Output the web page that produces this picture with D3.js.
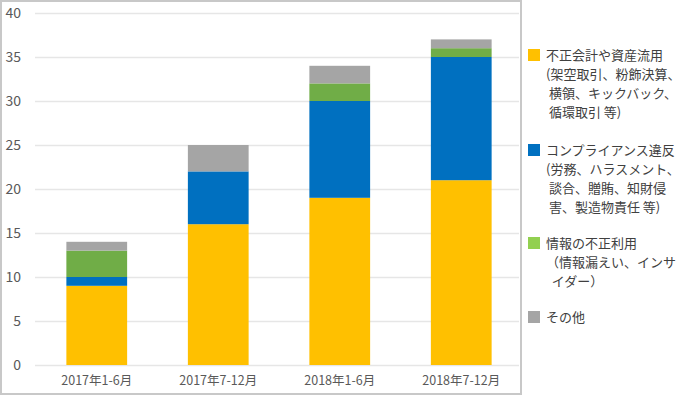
<!DOCTYPE html>
<html>
<head>
<meta charset="utf-8">
<script src="https://cdn.jsdelivr.net/npm/d3@7"></script>
<style>
  body { margin: 0; background: #fff; }
  text { font-family: "Noto Sans CJK JP", "Noto Sans", sans-serif; }
</style>
</head>
<body>
<div id="chart"></div>
<script>
// data
var periods = ["2017年1-6月", "2017年7-12月", "2018年1-6月", "2018年7-12月"]
var fraud = [9, 16, 19, 21]
var compliance = [1, 6, 11, 14]
var infoMisuse = [3, 0, 2, 1]
var other = [1, 3, 2, 1]
var yTicks = [0, 5, 10, 15, 20, 25, 30, 35, 40]

var seriesNames = ["fraud", "compliance", "info", "other"]
var colors = { fraud: "#FFC000", compliance: "#0070C0", info: "#70AD47", other: "#A5A5A5" }
var legendColors = { fraud: "#FFC000", compliance: "#0070C0", info: "#92D050", other: "#A5A5A5" }
var legendLines = {
  fraud: ["不正会計や資産流用", "(架空取引、粉飾決算、", " 横領、キックバック、", " 循環取引 等)"],
  compliance: ["コンプライアンス違反", "(労務、ハラスメント、", " 談合、贈賄、知財侵", " 害、製造物責任 等)"],
  info: ["情報の不正利用", "（情報漏えい、インサ", "  イダー）"],
  other: ["その他"]
}

var rows = periods.map(function (p, i) {
  return { period: p, fraud: fraud[i], compliance: compliance[i], info: infoMisuse[i], other: other[i] }
})

var svg = d3.select("#chart")
    .append("svg")
    .attr("width", 700)
    .attr("height", 396)

// chart frame
svg.append("rect")
    .attr("x", 1)
    .attr("y", 1)
    .attr("width", 520)
    .attr("height", 393)
    .attr("fill", "none")
    .attr("stroke", "#c8c8c8")
    .attr("stroke-width", 2)

var x = d3.scaleBand()
    .domain(periods)
    .range([36, 522])
    .paddingInner(0.5)
    .paddingOuter(0.25)

var y = d3.scaleLinear()
    .domain([0, 40])
    .range([365, 13])

// gridlines + y labels
svg.append("g")
    .attr("transform", "translate(35, 0)")
    .call(d3.axisLeft(y).tickValues(yTicks).tickSize(-484).tickPadding(14))
    .call(function (g) { g.select(".domain").remove() })
    .call(function (g) {
      g.selectAll(".tick line").attr("stroke", "#e6e6e6").attr("stroke-width", 1.3)
      g.selectAll(".tick text").attr("fill", "#595959").style("font-size", "14px")
    })

var stack = d3.stack().keys(seriesNames)(rows)

svg.append("g")
    .selectAll("g")
    .data(stack)
    .enter().append("g")
    .attr("fill", function (d) { return colors[d.key] })
    .selectAll("rect")
    .data(function (d) { return d })
    .enter().append("rect")
    .attr("x", function (d) { return x(d.data.period) })
    .attr("y", function (d) { return y(d[1]) })
    .attr("width", x.bandwidth())
    .attr("height", function (d) { return y(d[0]) - y(d[1]) })

// x labels
svg.append("g")
    .attr("transform", "translate(0, 365)")
    .call(d3.axisBottom(x).tickSize(0).tickPadding(11))
    .call(function (g) { g.select(".domain").remove() })
    .call(function (g) {
      g.selectAll(".tick text").attr("fill", "#595959").style("font-size", "12.5px")
    })

// legend
var legendTop = { fraud: 55, compliance: 150, info: 243, other: 317 }
var legend = svg.append("g")

seriesNames.forEach(function (k) {
  var g = legend.append("g").attr("transform", "translate(528, " + legendTop[k] + ")")
  g.append("rect")
    .attr("x", 0)
    .attr("y", -6)
    .attr("width", 12)
    .attr("height", 12)
    .attr("fill", legendColors[k])
  g.selectAll("text")
    .data(legendLines[k])
    .enter().append("text")
    .attr("x", 18)
    .attr("y", function (d, i) { return i * 19 })
    .attr("dy", "0.35em")
    .attr("fill", "#404040")
    .style("font-size", "13px")
    .style("white-space", "pre")
    .attr("xml:space", "preserve")
    .text(function (d) { return d })
})
</script>
</body>
</html>
